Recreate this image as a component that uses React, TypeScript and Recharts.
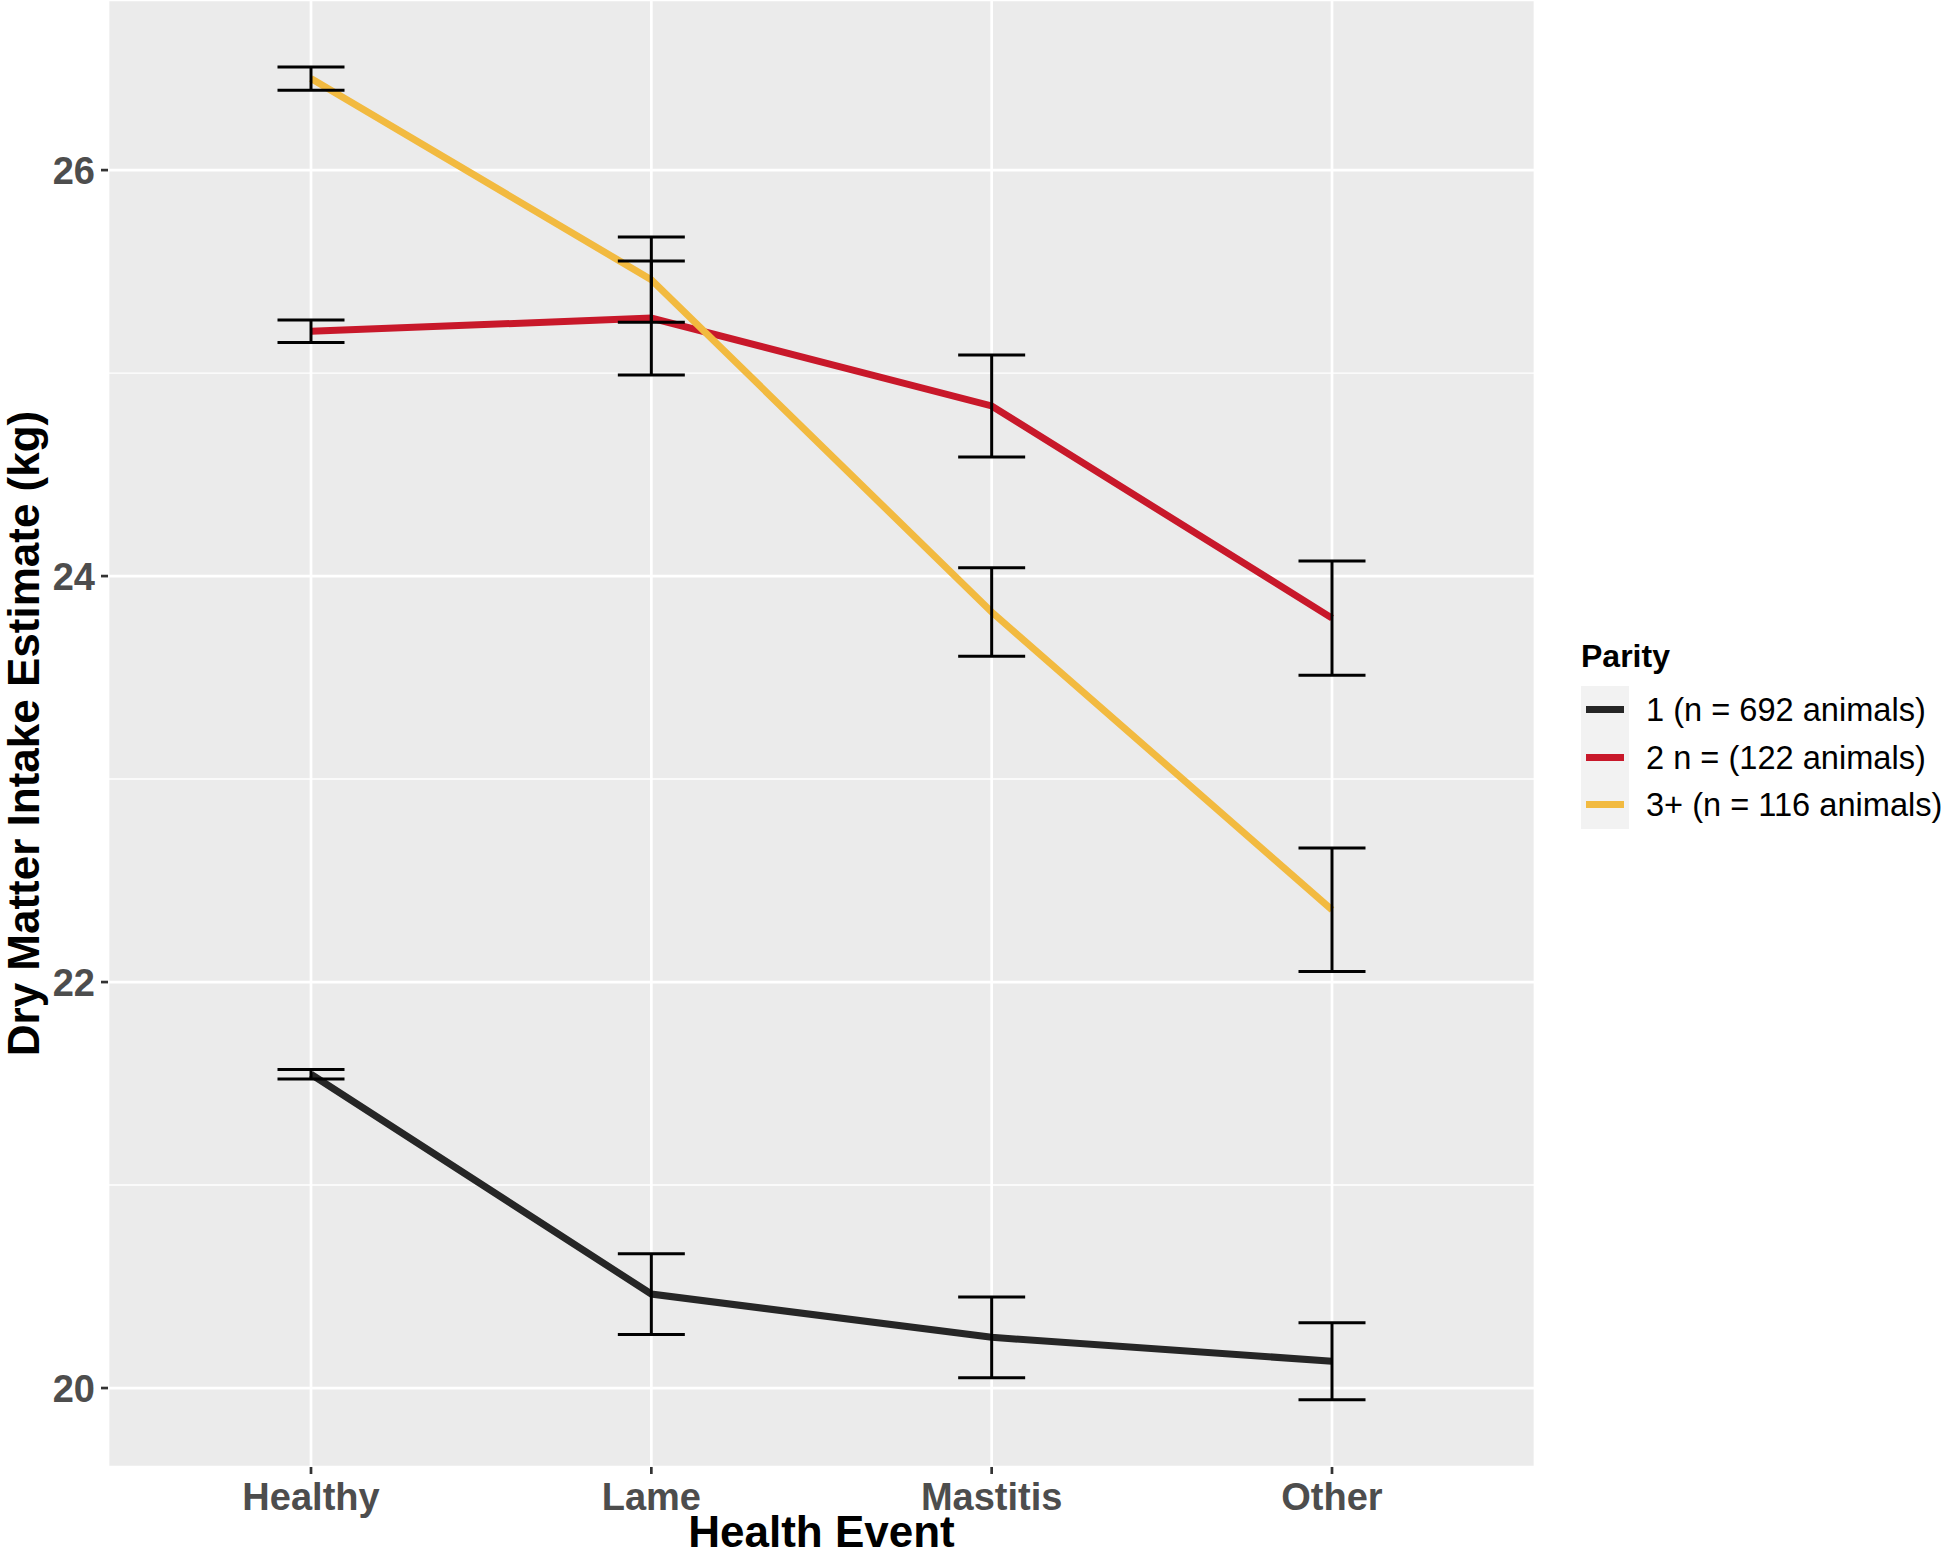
import { LineChart, Line, XAxis, YAxis, CartesianGrid, ReferenceLine, ErrorBar, Legend, Label } from 'recharts';

const categories = ['Healthy', 'Lame', 'Mastitis', 'Other'];

// mean estimate and half-width of the error bar, per health event
const parity1Mean = [21.546, 20.463, 20.25, 20.132];
const parity1Err = [0.023, 0.199, 0.199, 0.19];
const parity2Mean = [25.206, 25.271, 24.838, 23.793];
const parity2Err = [0.055, 0.281, 0.251, 0.281];
const parity3Mean = [26.451, 25.46, 23.823, 22.356];
const parity3Err = [0.057, 0.21, 0.218, 0.304];

const seriesKeys = ['p1', 'p2', 'p3'];
const seriesLabels = ['1 (n = 692 animals)', '2 n = (122 animals)', '3+ (n = 116 animals)'];
const seriesColors = ['#262626', '#C8182A', '#F2BA40'];

const yTicks = [20, 22, 24, 26];
const yMinorTicks = [21, 23, 25];

const FONT = '"Liberation Sans", Arial, Helvetica, sans-serif';

const data = categories.map((event, i) => ({
  event,
  p1: parity1Mean[i],
  p1Err: parity1Err[i],
  p2: parity2Mean[i],
  p2Err: parity2Err[i],
  p3: parity3Mean[i],
  p3Err: parity3Err[i],
}));

function ParityLegend() {
  return (
    <div style={{ fontFamily: FONT, color: '#000', whiteSpace: 'nowrap', overflow: 'hidden' }}>
      <div style={{ fontSize: 32, fontWeight: 700, lineHeight: '40px', height: 40, marginBottom: 10 }}>
        Parity
      </div>
      {seriesLabels.map((label, i) => (
        <div key={label} style={{ display: 'flex', alignItems: 'center', height: 47.5 }}>
          <div
            style={{
              width: 48,
              height: 47.5,
              background: '#F2F2F2',
              display: 'flex',
              alignItems: 'center',
              justifyContent: 'center',
            }}
          >
            <div style={{ width: 38, height: 7, background: seriesColors[i] }} />
          </div>
          <span style={{ fontSize: 32.6, lineHeight: '47.5px', marginLeft: 17 }}>{label}</span>
        </div>
      ))}
    </div>
  );
}

export default function App() {
  return (
    <div style={{ width: 1949, height: 1557, background: '#fff' }}>
      <style>{'body{margin:0;}'}</style>
      <LineChart width={1949} height={1557} data={data} margin={{ top: 0, right: 414, left: 0, bottom: 0 }}>
        <CartesianGrid fill="#EBEBEB" stroke="#FFFFFF" strokeWidth={2.7} />
        {yMinorTicks.map((v) => (
          <ReferenceLine key={v} y={v} stroke="#FFFFFF" strokeWidth={1.4} />
        ))}
        <XAxis
          dataKey="event"
          padding={{ left: 203, right: 203 }}
          height={90}
          axisLine={false}
          tickSize={7}
          tickMargin={9}
          tickLine={{ stroke: '#333333', strokeWidth: 2.7 }}
          tick={{ fill: '#4D4D4D', fontSize: 38, fontWeight: 700, fontFamily: FONT }}
        >
          <Label
            content={({ viewBox }: any) => (
              <text
                x={viewBox.x + viewBox.width / 2}
                y={1547}
                textAnchor="middle"
                fontSize={44}
                fontWeight={700}
                fontFamily={FONT}
                fill="#000"
              >
                Health Event
              </text>
            )}
          />
        </XAxis>
        <YAxis
          type="number"
          domain={[19.611, 26.838]}
          ticks={yTicks}
          allowDataOverflow
          width={108}
          axisLine={false}
          tickSize={7}
          tickMargin={6}
          tickLine={{ stroke: '#333333', strokeWidth: 2.7 }}
          tick={{ fill: '#4D4D4D', fontSize: 38, fontWeight: 700, fontFamily: FONT }}
        >
          <Label
            content={({ viewBox }: any) => {
              const cx = viewBox.x + 23;
              const cy = viewBox.y + viewBox.height / 2;
              return (
                <text
                  x={cx}
                  y={cy}
                  transform={`rotate(-90, ${cx}, ${cy})`}
                  textAnchor="middle"
                  dominantBaseline="central"
                  fontSize={44}
                  fontWeight={700}
                  fontFamily={FONT}
                  fill="#000"
                >
                  Dry Matter Intake Estimate (kg)
                </text>
              );
            }}
          />
        </YAxis>
        {seriesKeys.map((key, i) => (
          <Line
            key={key}
            type="linear"
            dataKey={key}
            stroke={seriesColors[i]}
            strokeWidth={7}
            dot={false}
            activeDot={false}
            legendType="none"
            isAnimationActive={false}
          />
        ))}
        {/* error bars drawn after all lines so they sit on top, as in the original */}
        {seriesKeys.map((key) => (
          <Line
            key={`${key}-err`}
            type="linear"
            dataKey={key}
            stroke="none"
            strokeOpacity={0}
            dot={false}
            activeDot={false}
            legendType="none"
            isAnimationActive={false}
          >
            <ErrorBar dataKey={`${key}Err`} width={33.5} stroke="#000" strokeWidth={3} direction="y" isAnimationActive={false} />
          </Line>
        ))}
        <Legend
          layout="horizontal"
          verticalAlign="middle"
          align="center"
          wrapperStyle={{ left: 1581, top: 636, width: 368 }}
          content={() => <ParityLegend />}
        />
      </LineChart>
    </div>
  );
}
